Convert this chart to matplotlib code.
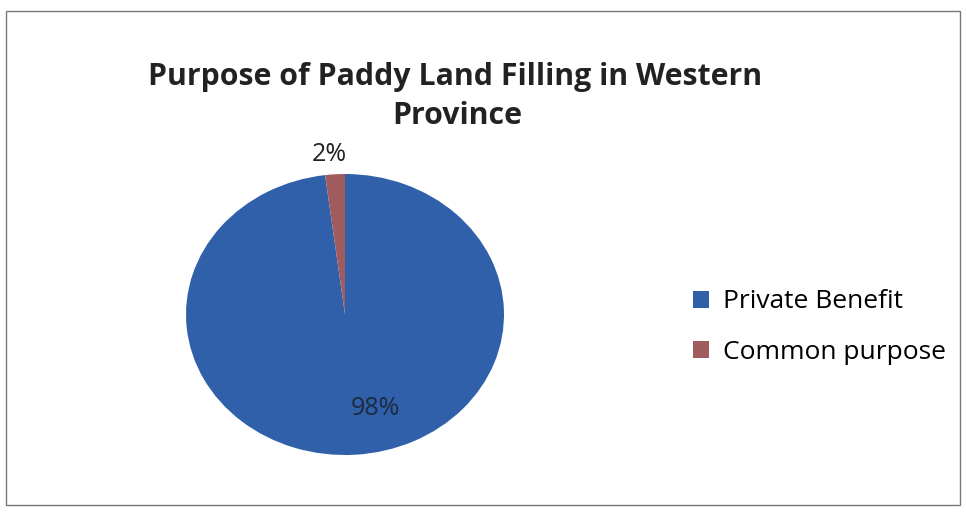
import matplotlib.pyplot as plt
from matplotlib.patches import Rectangle

labels = ['Private Benefit', 'Common purpose']
shares = [98, 2]
colors = ['#2f60a9', '#a05c5e']

fig = plt.figure(figsize=(9.66, 5.16), dpi=100)
fig.patches.append(Rectangle((6/966, 1 - 505/516), 954/966, 494/516, transform=fig.transFigure,
                             fill=False, edgecolor='#777777', linewidth=1.0))

fig.text(455/966, 1 - 77/516, 'Purpose of Paddy Land Filling in Western', ha='center', va='center',
         fontsize=21.8, fontweight='bold', family='Open Sans', color='#222222')
fig.text(457/966, 1 - 116/516, 'Province', ha='center', va='center',
         fontsize=21.8, fontweight='bold', family='Open Sans', color='#222222')

ax = fig.add_axes([186/966, 1 - 455/516, 318/966, 281/516])
wedges, texts = ax.pie(shares, colors=colors, startangle=90, counterclock=False,
                       wedgeprops=dict(linewidth=0))
ax.set_aspect('auto')
ax.set_xlim(-1, 1)
ax.set_ylim(-1, 1)

# percentage labels
ax.text(-0.1, 1.14, '%d%%' % shares[1], ha='center', va='center', fontsize=18,
        family='Open Sans', color='#222222')
ax.text(0.19, -0.67, '%d%%' % shares[0], ha='center', va='center', fontsize=18,
        family='Open Sans', color='#1d2a40')

fig.legend(wedges, labels, loc='center left', bbox_to_anchor=(669/966, 1 - 327/516),
           frameon=False, handlelength=0.6, handleheight=0.6,
           handletextpad=0.55, labelspacing=0.95, prop={'family': 'Open Sans', 'size': 19})

fig.savefig('out.png', dpi=100)
